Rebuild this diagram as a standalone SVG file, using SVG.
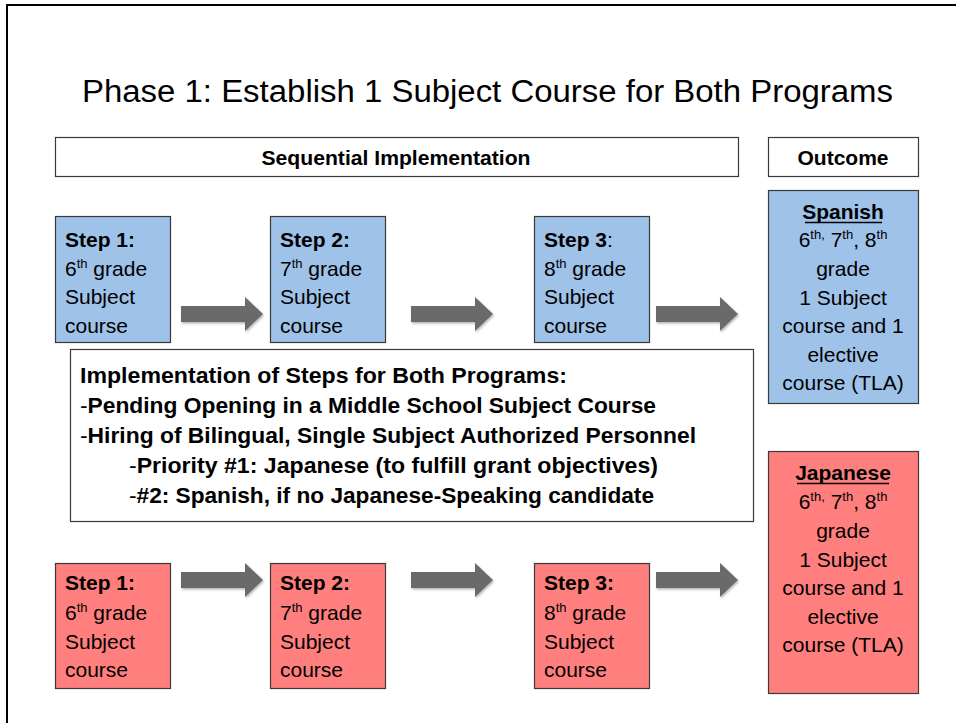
<svg xmlns="http://www.w3.org/2000/svg" width="956" height="723" viewBox="0 0 956 723">
<defs>
<style>
text{font-family:"Liberation Sans",Arial,sans-serif;fill:#000}
.t{font-size:21px}
.i{font-size:22px}
.b{font-weight:bold}
.n{font-weight:normal}
.hdr{font-size:20px;font-weight:bold;text-anchor:middle}
.c{text-anchor:middle}
.sup{font-size:13px}
.blue{fill:#9FC2E9;stroke:#3A3A3A;stroke-width:1.2}
.red{fill:#FF7F7E;stroke:#3A3A3A;stroke-width:1.2}
.wbox{fill:#fff;stroke:#3A3A3A;stroke-width:1.2}
.arrow{fill:#6B6B6B;filter:url(#sh)}
</style>
<filter id="sh" x="-10%" y="-20%" width="130%" height="160%">
<feDropShadow dx="1" dy="1.5" stdDeviation="1.2" flood-color="#000" flood-opacity="0.3"/>
</filter>
<path id="arr" d="M0,-8 H64 V-17 L82,0 L64,17 V8 H0 Z"/>
</defs>
<rect x="0" y="0" width="956" height="723" fill="#fff"/>
<rect x="7" y="5" width="1000" height="1000" fill="none" stroke="#000" stroke-width="2"/>

<text x="82" y="102" font-size="31" textLength="811" lengthAdjust="spacingAndGlyphs">Phase 1: Establish 1 Subject Course for Both Programs</text>

<g id="seq-header">
<rect class="wbox" x="55.5" y="137.5" width="683" height="39"/>
<text class="hdr" x="396" y="165" textLength="269" lengthAdjust="spacingAndGlyphs">Sequential Implementation</text>
</g>
<g id="outcome-header">
<rect class="wbox" x="768.5" y="137.5" width="150" height="39"/>
<text class="hdr" x="843" y="165" textLength="91" lengthAdjust="spacingAndGlyphs">Outcome</text>
</g>

<g id="es-step1">
<rect class="blue" x="55.5" y="216.5" width="115" height="126"/>
<text class="t" x="65" y="247"><tspan class="b">Step 1:</tspan></text>
<text class="t" x="65" y="276">6<tspan class="sup" dy="-8">th</tspan><tspan dy="8"> grade</tspan></text>
<text class="t" x="65" y="304">Subject</text>
<text class="t" x="65" y="333">course</text>
</g>
<g id="es-step2">
<rect class="blue" x="270.5" y="216.5" width="115" height="126"/>
<text class="t" x="280" y="247"><tspan class="b">Step 2:</tspan></text>
<text class="t" x="280" y="276">7<tspan class="sup" dy="-8">th</tspan><tspan dy="8"> grade</tspan></text>
<text class="t" x="280" y="304">Subject</text>
<text class="t" x="280" y="333">course</text>
</g>
<g id="es-step3">
<rect class="blue" x="534.5" y="216.5" width="115" height="126"/>
<text class="t" x="544" y="247"><tspan class="b">Step 3</tspan>:</text>
<text class="t" x="544" y="276">8<tspan class="sup" dy="-8">th</tspan><tspan dy="8"> grade</tspan></text>
<text class="t" x="544" y="304">Subject</text>
<text class="t" x="544" y="333">course</text>
</g>
<g id="es-outcome">
<rect class="blue" x="768.5" y="190.5" width="150" height="213"/>
<text class="t b c" x="843" y="219">Spanish</text>
<line x1="805" y1="222.5" x2="882" y2="222.5" stroke="#000" stroke-width="1.6"/>
<text class="t c" x="843" y="247">6<tspan class="sup" dy="-8">th,</tspan><tspan dy="8"> 7</tspan><tspan class="sup" dy="-8">th</tspan><tspan dy="8">, 8</tspan><tspan class="sup" dy="-8">th</tspan></text>
<text class="t c" x="843" y="276">grade</text>
<text class="t c" x="843" y="305">1 Subject</text>
<text class="t c" x="843" y="333">course and 1</text>
<text class="t c" x="843" y="362">elective</text>
<text class="t c" x="843" y="390">course (TLA)</text>
</g>

<g id="implementation">
<rect class="wbox" x="70.5" y="349.5" width="683" height="172"/>
<text class="i b" x="80" y="383" textLength="487" lengthAdjust="spacingAndGlyphs">Implementation of Steps for Both Programs:</text>
<text class="i b" x="80" y="413" textLength="576" lengthAdjust="spacingAndGlyphs"><tspan class="n">-</tspan>Pending Opening in a Middle School Subject Course</text>
<text class="i b" x="80" y="443" textLength="616" lengthAdjust="spacingAndGlyphs"><tspan class="n">-</tspan>Hiring of Bilingual, Single Subject Authorized Personnel</text>
<text class="i b" x="129" y="473" textLength="529" lengthAdjust="spacingAndGlyphs"><tspan class="n">-</tspan>Priority #1: Japanese (to fulfill grant objectives)</text>
<text class="i b" x="129" y="503" textLength="525" lengthAdjust="spacingAndGlyphs"><tspan class="n">-</tspan>#2: Spanish, if no Japanese-Speaking candidate</text>
</g>

<g id="jp-step1">
<rect class="red" x="55.5" y="563.5" width="115" height="125"/>
<text class="t b" x="65" y="590">Step 1:</text>
<text class="t" x="65" y="620">6<tspan class="sup" dy="-8">th</tspan><tspan dy="8"> grade</tspan></text>
<text class="t" x="65" y="649">Subject</text>
<text class="t" x="65" y="677">course</text>
</g>
<g id="jp-step2">
<rect class="red" x="270.5" y="563.5" width="115" height="125"/>
<text class="t b" x="280" y="590">Step 2:</text>
<text class="t" x="280" y="620">7<tspan class="sup" dy="-8">th</tspan><tspan dy="8"> grade</tspan></text>
<text class="t" x="280" y="649">Subject</text>
<text class="t" x="280" y="677">course</text>
</g>
<g id="jp-step3">
<rect class="red" x="534.5" y="563.5" width="115" height="125"/>
<text class="t b" x="544" y="590">Step 3:</text>
<text class="t" x="544" y="620">8<tspan class="sup" dy="-8">th</tspan><tspan dy="8"> grade</tspan></text>
<text class="t" x="544" y="649">Subject</text>
<text class="t" x="544" y="677">course</text>
</g>
<g id="jp-outcome">
<rect class="red" x="768.5" y="451.5" width="150" height="242"/>
<text class="t b c" x="843" y="480">Japanese</text>
<line x1="797" y1="483.5" x2="889" y2="483.5" stroke="#000" stroke-width="1.6"/>
<text class="t c" x="843" y="509">6<tspan class="sup" dy="-8">th,</tspan><tspan dy="8"> 7</tspan><tspan class="sup" dy="-8">th</tspan><tspan dy="8">, 8</tspan><tspan class="sup" dy="-8">th</tspan></text>
<text class="t c" x="843" y="538">grade</text>
<text class="t c" x="843" y="567">1 Subject</text>
<text class="t c" x="843" y="595">course and 1</text>
<text class="t c" x="843" y="624">elective</text>
<text class="t c" x="843" y="652">course (TLA)</text>
</g>

<g id="connectors">
<use href="#arr" class="arrow" x="181" y="314"/>
<use href="#arr" class="arrow" x="411" y="314"/>
<use href="#arr" class="arrow" x="656" y="314"/>
<use href="#arr" class="arrow" x="181" y="580"/>
<use href="#arr" class="arrow" x="411" y="580"/>
<use href="#arr" class="arrow" x="656" y="580"/>
</g>
</svg>
